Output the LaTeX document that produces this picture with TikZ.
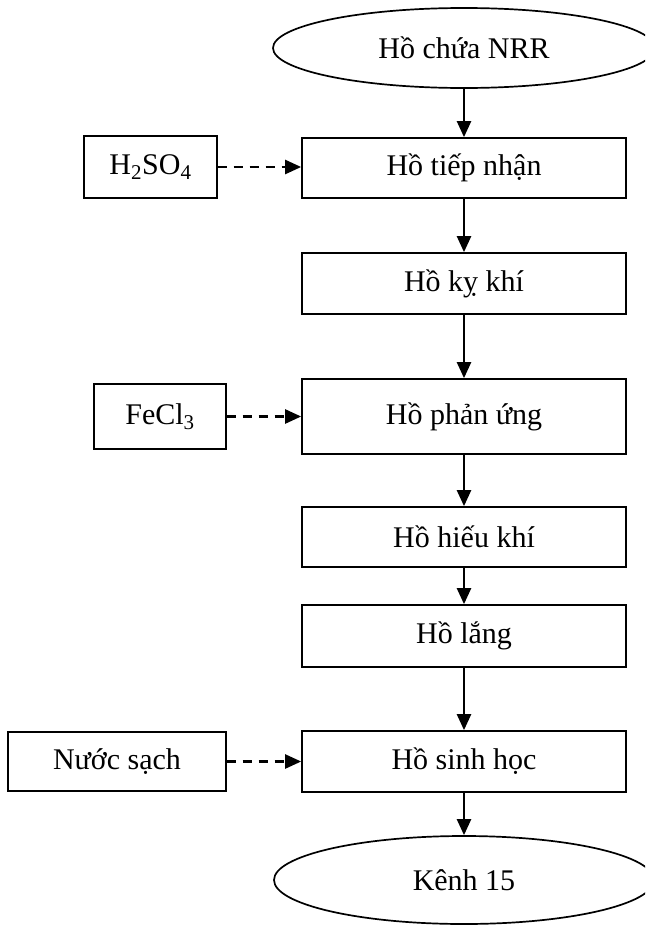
\documentclass[tikz,border=0pt]{standalone}
\usepackage{fontspec}
\setmainfont{Liberation Serif}
\usetikzlibrary{arrows.meta,shapes.geometric}
\begin{document}
\begin{tikzpicture}[x=1pt,y=-1pt,
  every node/.style={font=\fontsize{30}{36}\selectfont, inner sep=0pt},
  box/.style={draw, line width=1.7pt, rectangle, minimum width=324pt},
  sidebox/.style={draw, line width=1.4pt, rectangle},
  oval/.style={draw, line width=1.7pt, ellipse},
  arr/.style={line width=2.4pt, -{Triangle[length=16pt,width=14pt]}},
  darr/.style={line width=2.4pt, dash pattern=on 9pt off 7pt, -{Triangle[length=16pt,width=14pt]}}]
\useasboundingbox (0,0) rectangle (645,926);
\clip (0,0) rectangle (645,926);
\node[oval, minimum width=382pt, minimum height=80pt] (src) at (464,48) {Hồ chứa NRR};
\node[box, minimum height=60pt] (tiep) at (464,168) {Hồ tiếp nhận};
\node[box, minimum height=61pt] (ky) at (464,283.5) {Hồ kỵ khí};
\node[box, minimum height=75pt] (phan) at (464,416.5) {Hồ phản ứng};
\node[box, minimum height=60pt] (hieu) at (464,537) {Hồ hiếu khí};
\node[box, minimum height=62pt] (lang) at (464,636) {Hồ lắng};
\node[box, minimum height=61pt] (sinh) at (464,761.5) {Hồ sinh học};
\node[oval, minimum width=380pt, minimum height=88pt] (kenh) at (464,880) {Kênh 15};
\node[sidebox, minimum width=133pt, minimum height=62pt] (h2) at (150.5,167) {H\textsubscript{2}SO\textsubscript{4}};
\node[sidebox, minimum width=132pt, minimum height=65pt] (fe) at (160,416.5) {FeCl\textsubscript{3}};
\node[sidebox, minimum width=218pt, minimum height=59pt] (nuoc) at (117,761.5) {Nước sạch};
\draw[arr] (src) -- (tiep);
\draw[arr] (tiep) -- (ky);
\draw[arr] (ky) -- (phan);
\draw[arr] (phan) -- (hieu);
\draw[arr] (hieu) -- (lang);
\draw[arr] (lang) -- (sinh);
\draw[arr] (sinh) -- (kenh);
\draw[darr] (h2.east) -- (h2.east -| tiep.west);
\draw[darr] (fe.east) -- (fe.east -| phan.west);
\draw[darr] (nuoc.east) -- (nuoc.east -| sinh.west);
\end{tikzpicture}
\end{document}
